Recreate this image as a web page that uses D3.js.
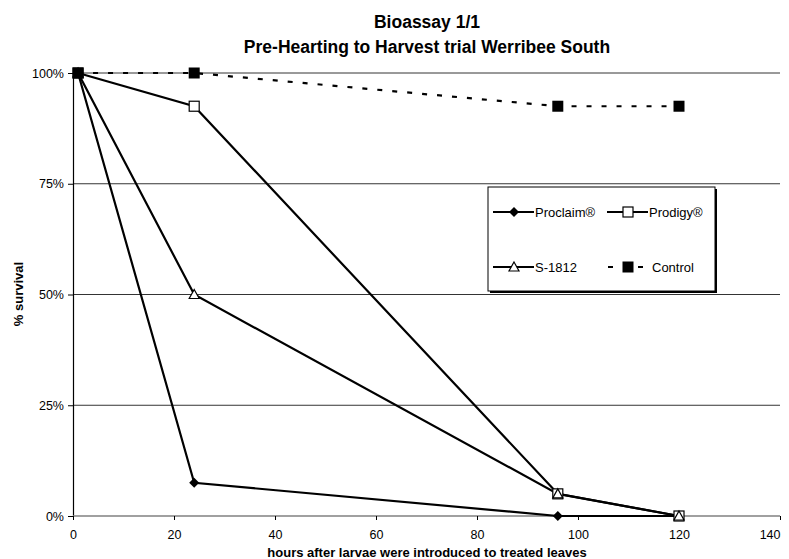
<!DOCTYPE html>
<html>
<head>
<meta charset="utf-8">
<script src="https://cdn.jsdelivr.net/npm/d3@7"></script>
<style>
  html, body { margin: 0; padding: 0; background: #fff; }
  svg { display: block; font-family: "Liberation Sans", Arial, sans-serif; }
</style>
</head>
<body>
<svg id="chart" width="789" height="559"></svg>
<script>
// Survival over time for each treatment
const hours = [1, 24, 96, 120];
const proclaim = [1.00, 0.075, 0.00, 0.00];
const prodigy = [1.00, 0.925, 0.05, 0.00];
const s1812 = [1.00, 0.50, 0.05, 0.00];
const control = [1.00, 1.00, 0.925, 0.925];

const seriesNames = ["Proclaim®", "Prodigy®", "S-1812", "Control"];
const xTicks = [0, 20, 40, 60, 80, 100, 120, 140];
const yTicks = [0, 0.25, 0.5, 0.75, 1];

const svg = d3.select("#chart");
const plotLeft = 73, plotRight = 780, plotTop = 73, plotBottom = 516;
const FONT = "Liberation Sans, Arial, sans-serif";

const x = d3.scaleLinear().domain([0, 140]).range([plotLeft, plotRight]);
const y = d3.scaleLinear().domain([0, 1]).range([plotBottom, plotTop]);

// Titles
svg.append("text").attr("x", 427).attr("y", 28).attr("text-anchor", "middle")
  .attr("font-size", 17.5).attr("font-weight", "bold").text("Bioassay 1/1");
svg.append("text").attr("x", 427).attr("y", 53).attr("text-anchor", "middle")
  .attr("font-size", 17.5).attr("font-weight", "bold")
  .text("Pre-Hearting to Harvest trial Werribee South");

// Horizontal gridlines
svg.append("g").selectAll("line").data(yTicks.filter(d => d > 0)).join("line")
  .attr("x1", plotLeft).attr("x2", plotRight)
  .attr("y1", d => y(d)).attr("y2", d => y(d))
  .attr("stroke", "#000").attr("stroke-width", 0.8);

// Y axis
const yAxis = svg.append("g").attr("transform", `translate(${plotLeft},0)`)
  .call(d3.axisLeft(y).tickValues(yTicks).tickFormat(d3.format(".0%")).tickSize(5).tickPadding(4));
yAxis.select(".domain").attr("stroke", "#000").attr("stroke-width", 1.2);
yAxis.selectAll(".tick line").attr("stroke", "#000");
yAxis.selectAll("text").attr("font-size", 12.5).attr("font-family", FONT);

// X axis
const xAxis = svg.append("g").attr("transform", `translate(0,${plotBottom})`)
  .call(d3.axisBottom(x).tickValues(xTicks).tickSize(4).tickPadding(10));
xAxis.select(".domain").attr("stroke", "#808080").attr("stroke-width", 1.5).attr("d", `M${plotLeft},0H${plotRight}`);
xAxis.selectAll(".tick line").attr("stroke", "#000");
xAxis.selectAll("text").attr("font-size", 12.5).attr("font-family", FONT);
// keep the last label inside the page edge
xAxis.selectAll(".tick").filter(d => d === 140).select("text").attr("text-anchor", "end").attr("dx", 0);

// Axis titles
svg.append("text").attr("x", 427).attr("y", 557).attr("text-anchor", "middle")
  .attr("font-size", 13).attr("font-weight", "bold")
  .text("hours after larvae were introduced to treated leaves");
svg.append("text").attr("transform", "translate(23,294) rotate(-90)")
  .attr("text-anchor", "middle").attr("font-size", 13).attr("font-weight", "bold")
  .text("% survival");

// Marker drawing
function drawMarker(g, type, cx, cy) {
  if (type === "diamond") {
    g.append("path").attr("d", "M0,-5L5,0L0,5L-5,0Z")
      .attr("transform", `translate(${cx},${cy})`)
      .attr("fill", "#000");
  } else if (type === "openSquare") {
    g.append("rect").attr("x", cx - 5).attr("y", cy - 5).attr("width", 10).attr("height", 10)
      .attr("fill", "#fff").attr("stroke", "#000").attr("stroke-width", 1.2);
  } else if (type === "triangle") {
    g.append("path").attr("d", "M0,-5L5,4L-5,4Z")
      .attr("transform", `translate(${cx},${cy})`)
      .attr("fill", "#fff").attr("stroke", "#000").attr("stroke-width", 1.2);
  } else if (type === "square") {
    g.append("rect").attr("x", cx - 5.5).attr("y", cy - 5.5).attr("width", 11).attr("height", 11)
      .attr("fill", "#000");
  }
}

const series = [
  { name: seriesNames[0], values: proclaim, marker: "diamond", dash: null },
  { name: seriesNames[1], values: prodigy, marker: "openSquare", dash: null },
  { name: seriesNames[2], values: s1812, marker: "triangle", dash: null },
  { name: seriesNames[3], values: control, marker: "square", dash: "5,10" }
];

const line = d3.line().x(d => x(d[0])).y(d => y(d[1]));

const plot = svg.append("g");
series.forEach(s => {
  const pts = hours.map((h, i) => [h, s.values[i]]);
  plot.append("path").datum(pts).attr("d", line)
    .attr("fill", "none").attr("stroke", "#000").attr("stroke-width", 2.2)
    .attr("stroke-dasharray", s.dash);
});
series.forEach(s => {
  const g = plot.append("g");
  hours.forEach((h, i) => drawMarker(g, s.marker, x(h), y(s.values[i])));
});

// Legend
const lg = svg.append("g");
lg.append("rect").attr("x", 490).attr("y", 189).attr("width", 227).attr("height", 104).attr("fill", "#000");
lg.append("rect").attr("x", 488).attr("y", 187).attr("width", 227).attr("height", 104)
  .attr("fill", "#fff").attr("stroke", "#000").attr("stroke-width", 1);

const legendPos = [
  { lx: 493, cy: 212 }, { lx: 607, cy: 212 },
  { lx: 493, cy: 267 }, { lx: 607, cy: 267 }
];
series.forEach((s, i) => {
  const p = legendPos[i];
  lg.append("line").attr("x1", p.lx).attr("x2", p.lx + 41).attr("y1", p.cy).attr("y2", p.cy)
    .attr("stroke", "#000").attr("stroke-width", 2.2)
    .attr("stroke-dasharray", s.dash ? "5,10" : null)
    .attr("stroke-dashoffset", s.dash ? -1 : null);
  drawMarker(lg, s.marker, p.lx + 21, p.cy);
  lg.append("text").attr("x", p.lx + 42 + (s.dash ? 3 : 0)).attr("y", p.cy + 4.5)
    .attr("font-size", 13).attr("font-family", FONT).text(s.name);
});
</script>
</body>
</html>
